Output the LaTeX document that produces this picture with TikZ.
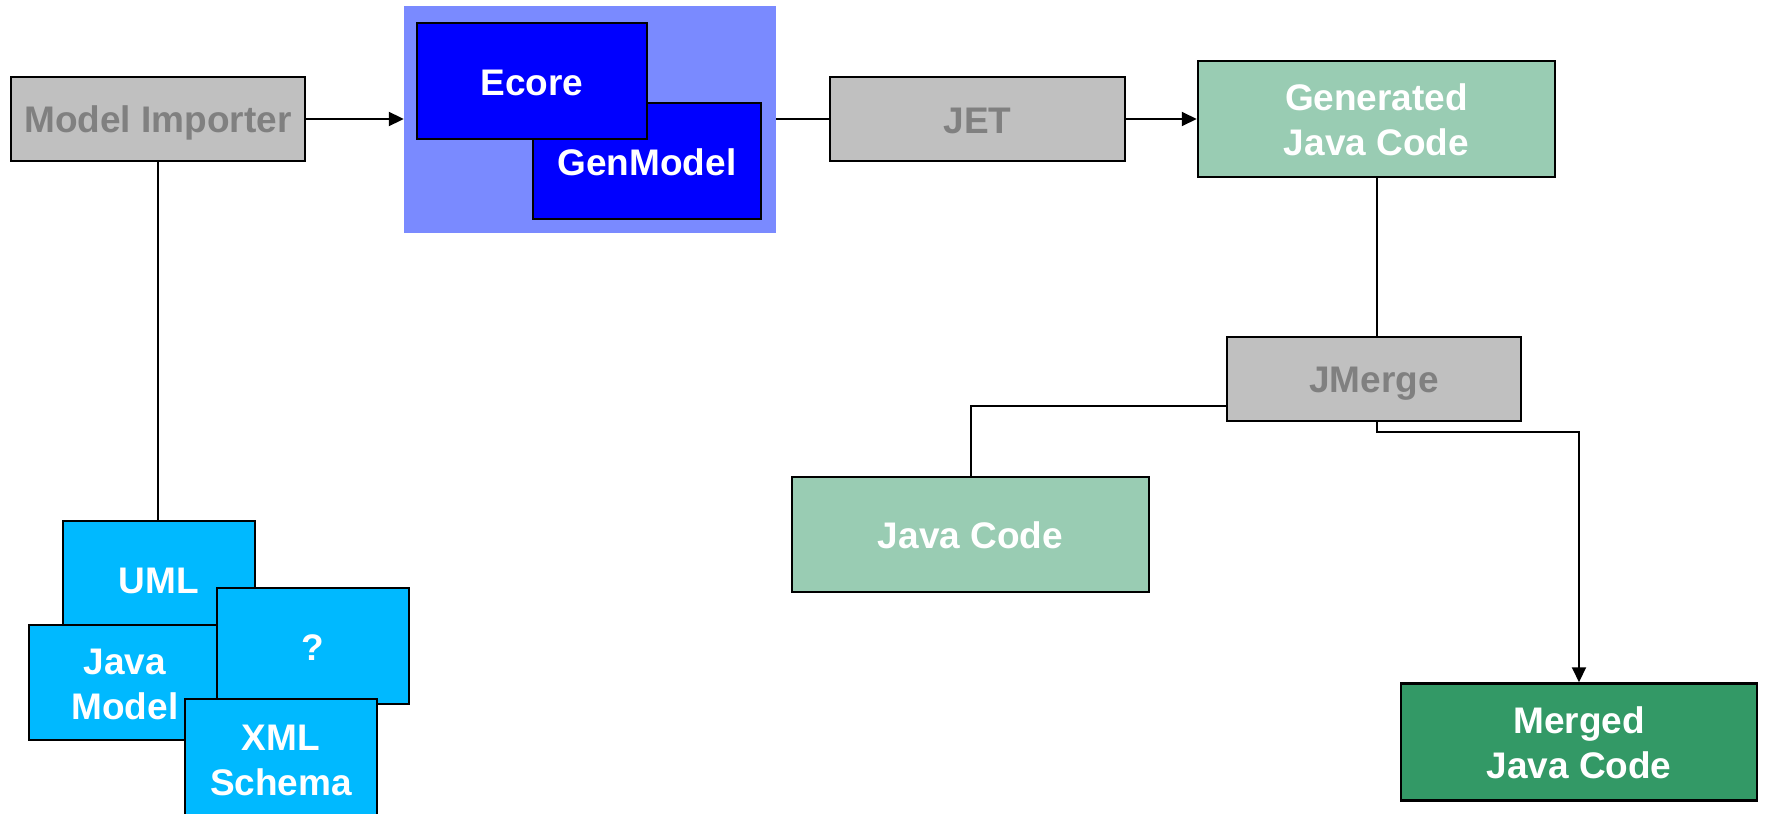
\documentclass[tikz,border=0pt]{standalone}
\usepackage{fontspec}
\setmainfont{Liberation Sans}
\usetikzlibrary{arrows.meta}
\definecolor{boxgray}{HTML}{C0C0C0}
\definecolor{txtgray}{HTML}{808080}
\definecolor{bgblue}{HTML}{7A8AFF}
\definecolor{pureblue}{HTML}{0000FF}
\definecolor{mint}{HTML}{99CCB3}
\definecolor{darkgreen}{HTML}{339966}
\definecolor{skyblue}{HTML}{00B9FF}
\newcommand\ts{\rule[-0.17em]{0pt}{1.12em}}
\begin{document}
\begin{tikzpicture}[x=1pt,y=-1pt,
  box/.style={draw=black, line width=2.5pt, inner sep=0pt, align=center, font=\fontsize{37}{45}\selectfont\bfseries},
  graybox/.style={box, fill=boxgray, text=txtgray},
  bluebox/.style={box, fill=pureblue, text=white},
  mintbox/.style={box, fill=mint, text=white},
  greenbox/.style={box, fill=darkgreen, text=white},
  skybox/.style={box, fill=skyblue, text=white, minimum width=192pt, minimum height=116pt},
  conn/.style={line width=2pt},
  arr/.style={conn, -{Triangle[length=15pt,width=14pt]}},
]
\useasboundingbox (0,0) rectangle (1765,814);
\fill[white] (0,0) rectangle (1765,814);

% top row
\node[graybox, minimum width=294pt, minimum height=84pt] (mi) at (158,119) {\ts Model Importer};
\node[fill=bgblue, inner sep=0pt, minimum width=372pt, minimum height=227pt] (bg) at (590,119) {};
\node[bluebox, minimum width=228pt, minimum height=116pt] (gm) at (647,161) {\ts GenModel};
\node[bluebox, minimum width=230pt, minimum height=116pt] (ec) at (532,81) {\ts Ecore};
\node[graybox, minimum width=295pt, minimum height=84pt] (jet) at (977.5,119) {\ts JET};
\node[mintbox, minimum width=357pt, minimum height=116pt] (gen) at (1376.5,119) {\ts Generated\\\ts Java Code};

% right side
\node[graybox, minimum width=294pt, minimum height=84pt] (jm) at (1374,379) {\ts JMerge};
\node[mintbox, minimum width=357pt, minimum height=115pt] (jc) at (970.5,534.5) {\ts Java Code};
\node[greenbox, minimum width=356pt, minimum height=117pt] (mg) at (1579,742) {\ts Merged\\\ts Java Code};

% importer sources
\node[skybox] (uml) at (159,579) {\ts UML};
\node[skybox, minimum height=115pt] (jmod) at (125,682.5) {\ts Java\\\ts Model};
\node[skybox] (q) at (313,646) {\ts ?};
\node[skybox, minimum height=120pt] (xml) at (281,759) {\ts XML\\\ts Schema};

% connectors
\draw[arr] (mi.east) -- (bg.west);
\draw[conn] (bg.east) -- (jet.west);
\draw[arr] (jet.east) -- (gen.west);
\draw[conn] (gen.south) -- (gen.south |- jm.north);
\draw[conn] (mi.south) -- (mi.south |- uml.north);
\draw[conn] ([yshift=-27pt]jm.west) -| (jc.north);
\draw[arr] (gen.south |- jm.south) -- ++(0,10) -| (mg.north);
\end{tikzpicture}
\end{document}
